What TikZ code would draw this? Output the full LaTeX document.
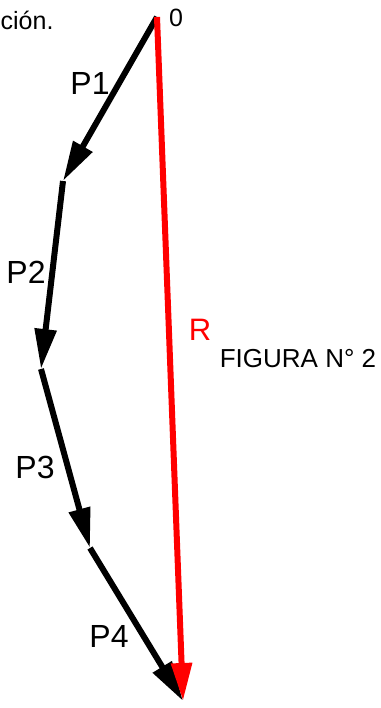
\documentclass[tikz,border=0pt]{standalone}
\usepackage{fontspec}
\setmainfont{Liberation Sans}
\usetikzlibrary{arrows.meta}
\begin{document}
\begin{tikzpicture}[x=1pt,y=-1pt,
  force/.style={line width=6pt,-{Triangle[length=40pt,width=21pt]}},
  resultant/.style={force,red,-{Triangle[length=38pt,width=20pt]}},
  lbl/.style={inner sep=0pt,anchor=base,font=\fontsize{32}{36}\selectfont},
  small/.style={inner sep=0pt,anchor=base,font=\fontsize{25}{28}\selectfont}]
\useasboundingbox (0,0) rectangle (380,708);
\coordinate (O) at (157,17);
\coordinate (A) at (63,181);
\coordinate (B) at (41,369);
\coordinate (C) at (90,548);
\coordinate (D) at (183,701);
\draw[force] (O) -- (A);
\draw[force] (A) -- (B);
\draw[force] (B) -- (C);
\draw[force] (C) -- (D);
\draw[resultant] (O) -- (D);
\node[lbl] (p1) at (90,95) {P1};
\node[lbl] (p2) at (26,283) {P2};
\node[lbl] (p3) at (35,478) {P3};
\node[lbl] (p4) at (109,647) {P4};
\node[lbl,red,font=\fontsize{31}{36}\selectfont] (r) at (200,340) {R};
\node[inner sep=0pt,anchor=base,font=\fontsize{26}{32}\selectfont] (fig) at (298,367) {FIGURA N° 2};
\node[small] (zero) at (176,27) {0};
\node[small,anchor=base west] (cion) at (0.5,30) {ción.};
\end{tikzpicture}
\end{document}
